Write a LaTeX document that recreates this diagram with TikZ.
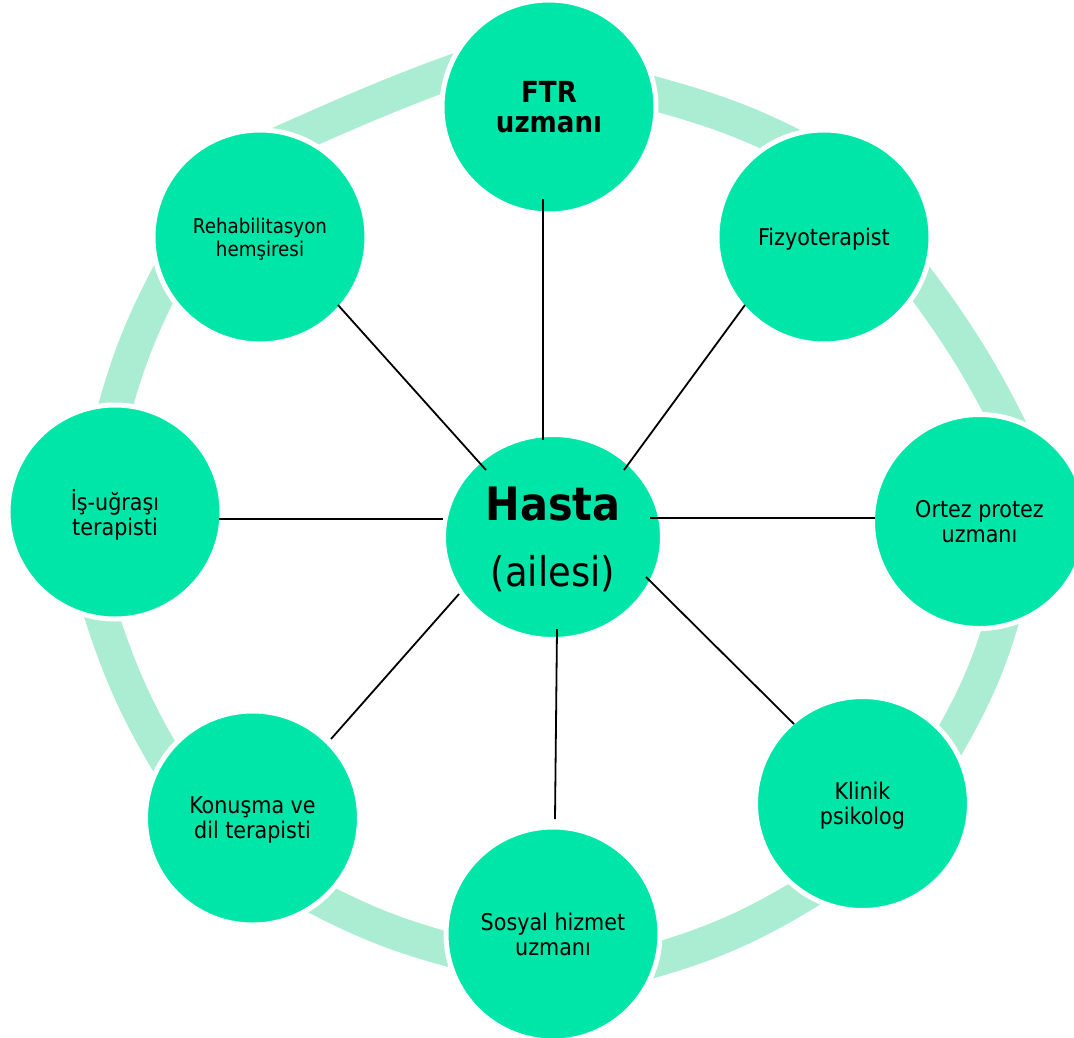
\documentclass[tikz,border=0pt]{standalone}
\usepackage{fontspec}
\setmainfont{DejaVu Sans Condensed}
\usetikzlibrary{calc,shapes.geometric}
\definecolor{nodegreen}{RGB}{0,229,168}
\definecolor{ringgreen}{RGB}{171,237,211}
\newcommand\myringarc[3]{\draw[ringseg] (#1) .. controls ($4/3*(#2)-1/3*(#3)$) and ($4/3*(#2)-1/3*(#1)$) .. (#3);}
\begin{document}
\begin{tikzpicture}[x=1pt,y=-1pt,
  member/.style={circle, fill=nodegreen, draw=white, line width=5pt, minimum size=214pt,
    inner sep=0pt, align=center, text=black, text depth=0pt,
    font=\fontsize{23}{25}\selectfont},
  ringseg/.style={draw=ringgreen, line width=34pt, shorten <=-40pt, shorten >=-40pt},
  spoke/.style={draw=black, line width=1.8pt}]
\useasboundingbox (0,0) rectangle (1074,1037);
% ring segments
\myringarc{298,135}{383,98}{445,74}
\myringarc{657,94}{727,115}{779,137.5}
\myringarc{922.5,285}{968,350}{1004.5,416}
\myringarc{1000.5,628}{981,683}{951,740}
\myringarc{802.7,896}{733,934}{658,960}
\myringarc{445,949}{384,930}{326,903}
\myringarc{162,754}{128,690}{102.5,620.5}
\myringarc{116,402}{135,343}{161.6,286.4}
% member circles
\node[member, font=\bfseries\fontsize{29}{30.5}\selectfont] (ftr) at (549,107) {FTR\\uzmanı};
\node[member] (fizyo) at (824,237) {Fizyoterapist};
\node[member] (ortez) at (979.5,521.5) {Ortez protez\\uzmanı};
\node[member] (klinik) at (862.5,803.5) {Klinik\\psikolog};
\node[member] (sosyal) at (553,934) {Sosyal hizmet\\uzmanı};
\node[member] (konusma) at (252.5,818) {Konuşma ve\\dil terapisti};
\node[member] (is) at (115,512) {İş-uğraşı\\terapisti};
\node[member, font=\fontsize{20.3}{23}\selectfont] (rehab) at (260,237) {Rehabilitasyon\\hemşiresi};
% centre
\node[ellipse, fill=nodegreen, draw=white, line width=5pt, minimum width=219pt,
  minimum height=205pt, inner sep=0pt] (hasta) at (553,537) {};
\node[anchor=base, inner sep=0pt, font=\bfseries\fontsize{46}{50}\selectfont] (hastaname) at (553,520) {Hasta};
\node[anchor=base, inner sep=0pt, font=\fontsize{41}{45}\selectfont] (aile) at (553,586) {(ailesi)};
% spokes
\coordinate (s1a) at ($(ftr)+(-6,92)$);       \coordinate (s1b) at ($(hasta)+(-10,-97)$);
\coordinate (s2a) at ($(fizyo)+(-79,68)$);    \coordinate (s2b) at ($(hasta)+(71,-67)$);
\coordinate (s3a) at ($(ortez)+(-104.5,-3.5)$); \coordinate (s3b) at ($(hasta)+(97,-19)$);
\coordinate (s4a) at ($(klinik)+(-68.5,-79.5)$); \coordinate (s4b) at ($(hasta)+(93,40)$);
\coordinate (s5a) at ($(sosyal)+(2,-115)$);   \coordinate (s5b) at ($(hasta)+(4,92)$);
\coordinate (s6a) at ($(konusma)+(78.5,-79)$); \coordinate (s6b) at ($(hasta)+(-94,57)$);
\coordinate (s7a) at ($(is)+(104,7)$);        \coordinate (s7b) at ($(hasta)+(-110,-18)$);
\coordinate (s8a) at ($(rehab)+(78,68)$);     \coordinate (s8b) at ($(hasta)+(-67,-67)$);
\foreach \i in {1,...,8}{\draw[spoke] (s\i a) -- (s\i b);}
\end{tikzpicture}
\end{document}
